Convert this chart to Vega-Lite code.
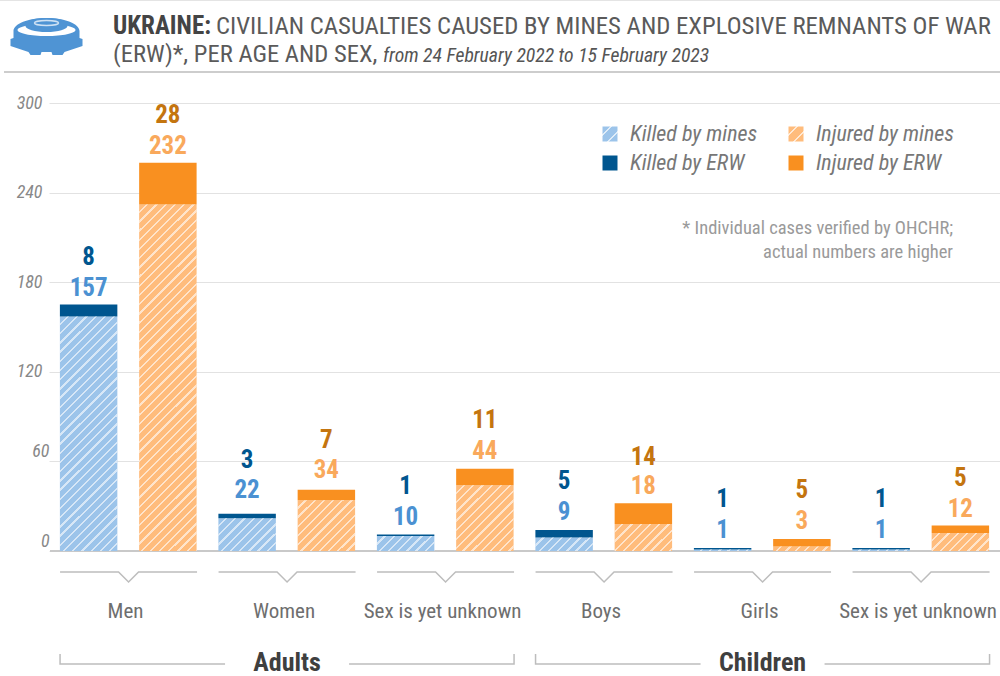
{"$schema":"https://vega.github.io/schema/vega-lite/v6.json","width":950,"height":448,"autosize":{"type":"none"},"padding":{"left":50,"top":103,"right":0,"bottom":125},"background":"#ffffff",
"params":[
{"name":"hatch","value":[{"offset":0.015,"color":"#fff0"},{"offset":0.015,"color":"#fff"},{"offset":0.02,"color":"#fff"},{"offset":0.02,"color":"#fff0"},{"offset":0.035,"color":"#fff0"},{"offset":0.035,"color":"#fff"},{"offset":0.04,"color":"#fff"},{"offset":0.04,"color":"#fff0"},{"offset":0.055,"color":"#fff0"},{"offset":0.055,"color":"#fff"},{"offset":0.06,"color":"#fff"},{"offset":0.06,"color":"#fff0"},{"offset":0.075,"color":"#fff0"},{"offset":0.075,"color":"#fff"},{"offset":0.08,"color":"#fff"},{"offset":0.08,"color":"#fff0"},{"offset":0.095,"color":"#fff0"},{"offset":0.095,"color":"#fff"},{"offset":0.1,"color":"#fff"},{"offset":0.1,"color":"#fff0"},{"offset":0.115,"color":"#fff0"},{"offset":0.115,"color":"#fff"},{"offset":0.12,"color":"#fff"},{"offset":0.12,"color":"#fff0"},{"offset":0.135,"color":"#fff0"},{"offset":0.135,"color":"#fff"},{"offset":0.14,"color":"#fff"},{"offset":0.14,"color":"#fff0"},{"offset":0.155,"color":"#fff0"},{"offset":0.155,"color":"#fff"},{"offset":0.16,"color":"#fff"},{"offset":0.16,"color":"#fff0"},{"offset":0.175,"color":"#fff0"},{"offset":0.175,"color":"#fff"},{"offset":0.18,"color":"#fff"},{"offset":0.18,"color":"#fff0"},{"offset":0.195,"color":"#fff0"},{"offset":0.195,"color":"#fff"},{"offset":0.2,"color":"#fff"},{"offset":0.2,"color":"#fff0"},{"offset":0.215,"color":"#fff0"},{"offset":0.215,"color":"#fff"},{"offset":0.22,"color":"#fff"},{"offset":0.22,"color":"#fff0"},{"offset":0.235,"color":"#fff0"},{"offset":0.235,"color":"#fff"},{"offset":0.24,"color":"#fff"},{"offset":0.24,"color":"#fff0"},{"offset":0.255,"color":"#fff0"},{"offset":0.255,"color":"#fff"},{"offset":0.26,"color":"#fff"},{"offset":0.26,"color":"#fff0"},{"offset":0.275,"color":"#fff0"},{"offset":0.275,"color":"#fff"},{"offset":0.28,"color":"#fff"},{"offset":0.28,"color":"#fff0"},{"offset":0.295,"color":"#fff0"},{"offset":0.295,"color":"#fff"},{"offset":0.3,"color":"#fff"},{"offset":0.3,"color":"#fff0"},{"offset":0.315,"color":"#fff0"},{"offset":0.315,"color":"#fff"},{"offset":0.32,"color":"#fff"},{"offset":0.32,"color":"#fff0"},{"offset":0.335,"color":"#fff0"},{"offset":0.335,"color":"#fff"},{"offset":0.34,"color":"#fff"},{"offset":0.34,"color":"#fff0"},{"offset":0.355,"color":"#fff0"},{"offset":0.355,"color":"#fff"},{"offset":0.36,"color":"#fff"},{"offset":0.36,"color":"#fff0"},{"offset":0.375,"color":"#fff0"},{"offset":0.375,"color":"#fff"},{"offset":0.38,"color":"#fff"},{"offset":0.38,"color":"#fff0"},{"offset":0.395,"color":"#fff0"},{"offset":0.395,"color":"#fff"},{"offset":0.4,"color":"#fff"},{"offset":0.4,"color":"#fff0"},{"offset":0.415,"color":"#fff0"},{"offset":0.415,"color":"#fff"},{"offset":0.42,"color":"#fff"},{"offset":0.42,"color":"#fff0"},{"offset":0.435,"color":"#fff0"},{"offset":0.435,"color":"#fff"},{"offset":0.44,"color":"#fff"},{"offset":0.44,"color":"#fff0"},{"offset":0.455,"color":"#fff0"},{"offset":0.455,"color":"#fff"},{"offset":0.46,"color":"#fff"},{"offset":0.46,"color":"#fff0"},{"offset":0.475,"color":"#fff0"},{"offset":0.475,"color":"#fff"},{"offset":0.48,"color":"#fff"},{"offset":0.48,"color":"#fff0"},{"offset":0.495,"color":"#fff0"},{"offset":0.495,"color":"#fff"},{"offset":0.5,"color":"#fff"},{"offset":0.5,"color":"#fff0"},{"offset":0.515,"color":"#fff0"},{"offset":0.515,"color":"#fff"},{"offset":0.52,"color":"#fff"},{"offset":0.52,"color":"#fff0"},{"offset":0.535,"color":"#fff0"},{"offset":0.535,"color":"#fff"},{"offset":0.54,"color":"#fff"},{"offset":0.54,"color":"#fff0"},{"offset":0.555,"color":"#fff0"},{"offset":0.555,"color":"#fff"},{"offset":0.56,"color":"#fff"},{"offset":0.56,"color":"#fff0"},{"offset":0.575,"color":"#fff0"},{"offset":0.575,"color":"#fff"},{"offset":0.58,"color":"#fff"},{"offset":0.58,"color":"#fff0"},{"offset":0.595,"color":"#fff0"},{"offset":0.595,"color":"#fff"},{"offset":0.6,"color":"#fff"},{"offset":0.6,"color":"#fff0"},{"offset":0.615,"color":"#fff0"},{"offset":0.615,"color":"#fff"},{"offset":0.62,"color":"#fff"},{"offset":0.62,"color":"#fff0"},{"offset":0.635,"color":"#fff0"},{"offset":0.635,"color":"#fff"},{"offset":0.64,"color":"#fff"},{"offset":0.64,"color":"#fff0"},{"offset":0.655,"color":"#fff0"},{"offset":0.655,"color":"#fff"},{"offset":0.66,"color":"#fff"},{"offset":0.66,"color":"#fff0"},{"offset":0.675,"color":"#fff0"},{"offset":0.675,"color":"#fff"},{"offset":0.68,"color":"#fff"},{"offset":0.68,"color":"#fff0"},{"offset":0.695,"color":"#fff0"},{"offset":0.695,"color":"#fff"},{"offset":0.7,"color":"#fff"},{"offset":0.7,"color":"#fff0"},{"offset":0.715,"color":"#fff0"},{"offset":0.715,"color":"#fff"},{"offset":0.72,"color":"#fff"},{"offset":0.72,"color":"#fff0"},{"offset":0.735,"color":"#fff0"},{"offset":0.735,"color":"#fff"},{"offset":0.74,"color":"#fff"},{"offset":0.74,"color":"#fff0"},{"offset":0.755,"color":"#fff0"},{"offset":0.755,"color":"#fff"},{"offset":0.76,"color":"#fff"},{"offset":0.76,"color":"#fff0"},{"offset":0.775,"color":"#fff0"},{"offset":0.775,"color":"#fff"},{"offset":0.78,"color":"#fff"},{"offset":0.78,"color":"#fff0"},{"offset":0.795,"color":"#fff0"},{"offset":0.795,"color":"#fff"},{"offset":0.8,"color":"#fff"},{"offset":0.8,"color":"#fff0"},{"offset":0.815,"color":"#fff0"},{"offset":0.815,"color":"#fff"},{"offset":0.82,"color":"#fff"},{"offset":0.82,"color":"#fff0"},{"offset":0.835,"color":"#fff0"},{"offset":0.835,"color":"#fff"},{"offset":0.84,"color":"#fff"},{"offset":0.84,"color":"#fff0"},{"offset":0.855,"color":"#fff0"},{"offset":0.855,"color":"#fff"},{"offset":0.86,"color":"#fff"},{"offset":0.86,"color":"#fff0"},{"offset":0.875,"color":"#fff0"},{"offset":0.875,"color":"#fff"},{"offset":0.88,"color":"#fff"},{"offset":0.88,"color":"#fff0"}]},
{"name":"blueSwatch","value":{"gradient":"linear","x1":0,"y1":0,"x2":1,"y2":1,"stops":[{"offset":0.26,"color":"#9cc4ea"},{"offset":0.26,"color":"#dfecf8"},{"offset":0.33,"color":"#dfecf8"},{"offset":0.33,"color":"#9cc4ea"},{"offset":0.66,"color":"#9cc4ea"},{"offset":0.66,"color":"#dfecf8"},{"offset":0.73,"color":"#dfecf8"},{"offset":0.73,"color":"#9cc4ea"}]}},
{"name":"orangeSwatch","value":{"gradient":"linear","x1":0,"y1":0,"x2":1,"y2":1,"stops":[{"offset":0.26,"color":"#ffbc7c"},{"offset":0.26,"color":"#ffe9d4"},{"offset":0.33,"color":"#ffe9d4"},{"offset":0.33,"color":"#ffbc7c"},{"offset":0.66,"color":"#ffbc7c"},{"offset":0.66,"color":"#ffe9d4"},{"offset":0.73,"color":"#ffe9d4"},{"offset":0.73,"color":"#ffbc7c"}]}}
],
"datasets":{
"casualties":[
{"age":"Adults","sex":"Men","bar":"Men killed","series":"Killed by mines","cause":"mines","value":157},
{"age":"Adults","sex":"Men","bar":"Men killed","series":"Killed by ERW","cause":"ERW","value":8},
{"age":"Adults","sex":"Men","bar":"Men injured","series":"Injured by mines","cause":"mines","value":232},
{"age":"Adults","sex":"Men","bar":"Men injured","series":"Injured by ERW","cause":"ERW","value":28},
{"age":"Adults","sex":"Women","bar":"Women killed","series":"Killed by mines","cause":"mines","value":22},
{"age":"Adults","sex":"Women","bar":"Women killed","series":"Killed by ERW","cause":"ERW","value":3},
{"age":"Adults","sex":"Women","bar":"Women injured","series":"Injured by mines","cause":"mines","value":34},
{"age":"Adults","sex":"Women","bar":"Women injured","series":"Injured by ERW","cause":"ERW","value":7},
{"age":"Adults","sex":"Sex is yet unknown","bar":"Adults unknown killed","series":"Killed by mines","cause":"mines","value":10},
{"age":"Adults","sex":"Sex is yet unknown","bar":"Adults unknown killed","series":"Killed by ERW","cause":"ERW","value":1},
{"age":"Adults","sex":"Sex is yet unknown","bar":"Adults unknown injured","series":"Injured by mines","cause":"mines","value":44},
{"age":"Adults","sex":"Sex is yet unknown","bar":"Adults unknown injured","series":"Injured by ERW","cause":"ERW","value":11},
{"age":"Children","sex":"Boys","bar":"Boys killed","series":"Killed by mines","cause":"mines","value":9},
{"age":"Children","sex":"Boys","bar":"Boys killed","series":"Killed by ERW","cause":"ERW","value":5},
{"age":"Children","sex":"Boys","bar":"Boys injured","series":"Injured by mines","cause":"mines","value":18},
{"age":"Children","sex":"Boys","bar":"Boys injured","series":"Injured by ERW","cause":"ERW","value":14},
{"age":"Children","sex":"Girls","bar":"Girls killed","series":"Killed by mines","cause":"mines","value":1},
{"age":"Children","sex":"Girls","bar":"Girls killed","series":"Killed by ERW","cause":"ERW","value":1},
{"age":"Children","sex":"Girls","bar":"Girls injured","series":"Injured by mines","cause":"mines","value":3},
{"age":"Children","sex":"Girls","bar":"Girls injured","series":"Injured by ERW","cause":"ERW","value":5},
{"age":"Children","sex":"Sex is yet unknown","bar":"Children unknown killed","series":"Killed by mines","cause":"mines","value":1},
{"age":"Children","sex":"Sex is yet unknown","bar":"Children unknown killed","series":"Killed by ERW","cause":"ERW","value":1},
{"age":"Children","sex":"Sex is yet unknown","bar":"Children unknown injured","series":"Injured by mines","cause":"mines","value":12},
{"age":"Children","sex":"Sex is yet unknown","bar":"Children unknown injured","series":"Injured by ERW","cause":"ERW","value":5}
],
"categories":[
{"label":"Men","bar":"Men killed"},
{"label":"Women","bar":"Women killed"},
{"label":"Sex is yet unknown","bar":"Adults unknown killed"},
{"label":"Boys","bar":"Boys killed"},
{"label":"Girls","bar":"Girls killed"},
{"label":"Sex is yet unknown","bar":"Children unknown killed"}
],
"groups":[
{"label":"Adults","bar":"Women killed"},
{"label":"Children","bar":"Girls killed"}
]
},
"data":{"name":"casualties"},
"layer":[
{"mark":{"type":"rule","color":"#c8c8c8","strokeWidth":1.5},"encoding":{"y":{"datum":0,"title":null,"scale":{"domain":[0,300]},"axis":{"values":[0,60,120,180,240,300],"title":null,"grid":true,"gridColor":"#e2e2e2","gridWidth":1,"domain":false,"ticks":false,"labelFont":"Roboto Condensed, Liberation Sans Narrow, Roboto","labelFontStyle":"italic","labelFontSize":18,"labelColor":"#888888","labelPadding":{"condition":{"test":"datum.value<=60","value":1},"value":8},"labelOffset":{"condition":{"test":"datum.value<=60","value":-10},"value":0}}}}},
{"mark":{"type":"bar","fill":{"expr":"datum.series==='Killed by mines'?'#9cc4ea':(datum.series==='Killed by ERW'?'#00568f':(datum.series==='Injured by mines'?'#ffbc7c':'#f99020'))"}},"encoding":{
"x":{"field":"bar","type":"nominal","axis":null,"scale":{"domain":["Men killed","Men injured","Women killed","Women injured","Adults unknown killed","Adults unknown injured","Boys killed","Boys injured","Girls killed","Girls injured","Children unknown killed","Children unknown injured"],"range":[-1,950],"paddingInner":0.275,"paddingOuter":0.1375}},
"y":{"field":"value","type":"quantitative","stack":"zero","title":null},
"order":{"field":"cause","sort":"descending"}
}},
{"transform":[{"filter":"false"}],"mark":{"type":"bar"},"encoding":{
"x":{"field":"bar","type":"nominal"},
"y":{"field":"value","type":"quantitative","stack":null,"title":null},
"fill":{"field":"series","type":"nominal","scale":{"domain":["Killed by mines","Killed by ERW","Injured by mines","Injured by ERW"],"range":[{"expr":"blueSwatch"},"#00568f",{"expr":"orangeSwatch"},"#f99020"]},
"legend":{"title":null,"orient":"none","legendX":549,"legendY":20,"columns":2,"symbolType":"square","symbolSize":225,"symbolStrokeWidth":0,"symbolOpacity":1,"labelFont":"Roboto Condensed, Liberation Sans Narrow, Roboto","labelFontStyle":"italic","labelFontSize":22,"labelColor":"#777777","columnPadding":27,"rowPadding":7,"labelOffset":9}}
}},
{"transform":[{"filter":"datum.cause==='mines'"}],"mark":{"type":"bar","opacity":0.6,"fill":{"expr":"{gradient:'linear',x1:0,y1:0,x2:460*57.3/(3283+pow(datum.value*1.4933,2)),y2:460*datum.value*1.4933/(3283+pow(datum.value*1.4933,2)),stops:hatch}"}},"encoding":{
"x":{"field":"bar","type":"nominal"},
"y":{"field":"value","type":"quantitative","stack":null,"title":null}
}},
{"transform":[{"joinaggregate":[{"op":"sum","field":"value","as":"total"}],"groupby":["bar"]},{"filter":"datum.cause==='mines'"}],"mark":{"type":"text","font":"Roboto Condensed, Liberation Sans Narrow, Roboto","fontWeight":"bold","fontSize":25,"dy":{"expr":"datum.bar==='Women killed'?-24:(datum.bar==='Women injured'?-20:(datum.bar==='Boys injured'?-17:(datum.bar==='Children unknown injured'||datum.sex==='Men'?-17:-18)))"},"baseline":"middle"},"encoding":{
"x":{"field":"bar","type":"nominal"},
"y":{"field":"total","type":"quantitative","title":null},
"text":{"field":"value","type":"quantitative"},
"color":{"field":"series","type":"nominal","scale":{"domain":["Killed by mines","Killed by ERW","Injured by mines","Injured by ERW"],"range":["#4b91d2","#00568f","#f9a95c","#c4750f"]},"legend":null}
}},
{"transform":[{"joinaggregate":[{"op":"sum","field":"value","as":"total"}],"groupby":["bar"]},{"filter":"datum.cause==='ERW'"}],"mark":{"type":"text","font":"Roboto Condensed, Liberation Sans Narrow, Roboto","fontWeight":"bold","fontSize":25,"dy":{"expr":"datum.bar==='Women killed'?-54:(datum.bar==='Women injured'?-50:(datum.bar==='Boys injured'?-46:(datum.bar==='Children unknown injured'||datum.sex==='Men'?-48:-49)))"},"baseline":"middle"},"encoding":{
"x":{"field":"bar","type":"nominal"},
"y":{"field":"total","type":"quantitative","title":null},
"text":{"field":"value","type":"quantitative"},
"color":{"field":"series","type":"nominal","legend":null}
}},
{"data":{"name":"categories"},"mark":{"type":"point","filled":false,"opacity":1,"stroke":"#bdbdbd","strokeWidth":1.5,"size":4,"shape":"M-68.5 0 L-10 0 L0 10 L10 0 L68.5 0"},"encoding":{"x":{"field":"bar","type":"nominal","bandPosition":1.195},"y":{"value":469}}},
{"data":{"name":"categories"},"mark":{"type":"text","font":"Roboto Condensed, Liberation Sans Narrow, Roboto","fontSize":21,"color":"#6e6e6e","dx":-3,"baseline":"middle"},"encoding":{"x":{"field":"bar","type":"nominal","bandPosition":1.195},"y":{"value":509},"text":{"field":"label"}}},
{"data":{"name":"groups"},"mark":{"type":"point","filled":false,"opacity":1,"stroke":"#bdbdbd","strokeWidth":1.5,"size":4,"shape":"M-227 -10 L-227 0 L-62 0 M62 0 L227 0 L227 -10"},"encoding":{"x":{"field":"bar","type":"nominal","bandPosition":1.195},"y":{"value":561}}},
{"data":{"name":"groups"},"mark":{"type":"text","font":"Roboto Condensed, Liberation Sans Narrow, Roboto","fontSize":26,"fontWeight":"bold","color":"#3f3f3f","baseline":"middle"},"encoding":{"x":{"field":"bar","type":"nominal","bandPosition":1.195},"y":{"value":560},"text":{"field":"label"}}},
{"data":{"values":[{"part":"rule"}]},"mark":{"type":"rule","color":"#bdbdbd","strokeWidth":1.5},"encoding":{"x":{"value":-46},"x2":{"value":950},"y":{"value":-31}}},
{"data":{"values":[{"part":"rule"}]},"mark":{"type":"rule","color":"#e4e4e4","strokeWidth":1},"encoding":{"x":{"value":-50},"x2":{"value":950},"y":{"value":-102.5}}},
{"data":{"values":[{"part":"icon"}]},"mark":{"type":"point","filled":true,"opacity":1,"fill":"#4f94d4","size":4,"shape":"M-33 -6 A33 13 0 0 1 33 -6 L33 1 L36 2 L36 9 L18 15 L16 18 L6 18 L5 15 L-5 15 L-6 18 L-16 18 L-18 15 L-36 9 L-36 2 L-33 1 Z"},"encoding":{"x":{"value":-3.5},"y":{"value":-66}}},
{"data":{"values":[{"part":"icon"}]},"mark":{"type":"point","filled":true,"opacity":1,"fill":"#ffffff","size":4,"shape":"M-29 -7 A29 6 0 1 1 29 -7 A29 6 0 1 1 -29 -7 Z"},"encoding":{"x":{"value":-3.5},"y":{"value":-66}}},
{"data":{"values":[{"part":"icon"}]},"mark":{"type":"point","filled":true,"opacity":1,"fill":"#4f94d4","size":4,"shape":"M-21 -13 A21 6 0 1 1 21 -13 L21 -11 A21 6 0 1 1 -21 -11 Z"},"encoding":{"x":{"value":-3.5},"y":{"value":-66}}},
{"data":{"values":[{"part":"icon"}]},"mark":{"type":"point","filled":false,"opacity":1,"stroke":"#cfe2f4","strokeWidth":1.5,"size":4,"shape":"M-12 -14 A12 2.5 0 1 1 12 -14 A12 2.5 0 1 1 -12 -14 Z"},"encoding":{"x":{"value":-3.5},"y":{"value":-66}}},
{"data":{"values":[{"text":"UKRAINE:"}]},"mark":{"type":"text","font":"Roboto Condensed, Liberation Sans Narrow, Roboto","fontSize":25,"fontWeight":"bold","color":"#444444","align":"left","baseline":"alphabetic"},"encoding":{"x":{"value":63},"y":{"value":-69},"text":{"field":"text"}}},
{"data":{"values":[{"text":"CIVILIAN CASUALTIES CAUSED BY MINES AND EXPLOSIVE REMNANTS OF WAR"}]},"mark":{"type":"text","font":"Roboto Condensed, Liberation Sans Narrow, Roboto","fontSize":24.75,"color":"#5a5a5a","align":"left","baseline":"alphabetic"},"encoding":{"x":{"value":166},"y":{"value":-69},"text":{"field":"text"}}},
{"data":{"values":[{"text":"(ERW)*, PER AGE AND SEX,"}]},"mark":{"type":"text","font":"Roboto Condensed, Liberation Sans Narrow, Roboto","fontSize":24.6,"color":"#5a5a5a","align":"left","baseline":"alphabetic"},"encoding":{"x":{"value":63},"y":{"value":-41},"text":{"field":"text"}}},
{"data":{"values":[{"text":"from 24 February 2022 to 15 February 2023"}]},"mark":{"type":"text","font":"Roboto Condensed, Liberation Sans Narrow, Roboto","fontSize":19.7,"fontStyle":"italic","color":"#555555","align":"left","baseline":"alphabetic"},"encoding":{"x":{"value":333},"y":{"value":-41},"text":{"field":"text"}}},
{"data":{"values":[{"text":"* Individual cases verified by OHCHR;"}]},"mark":{"type":"text","font":"Roboto Condensed, Liberation Sans Narrow, Roboto","fontSize":18.5,"color":"#9a9a9a","align":"right","baseline":"middle"},"encoding":{"x":{"value":903},"y":{"value":125},"text":{"field":"text"}}},
{"data":{"values":[{"text":"actual numbers are higher"}]},"mark":{"type":"text","font":"Roboto Condensed, Liberation Sans Narrow, Roboto","fontSize":18.5,"color":"#9a9a9a","align":"right","baseline":"middle"},"encoding":{"x":{"value":903},"y":{"value":149},"text":{"field":"text"}}}
],
"config":{"view":{"stroke":null}}}
